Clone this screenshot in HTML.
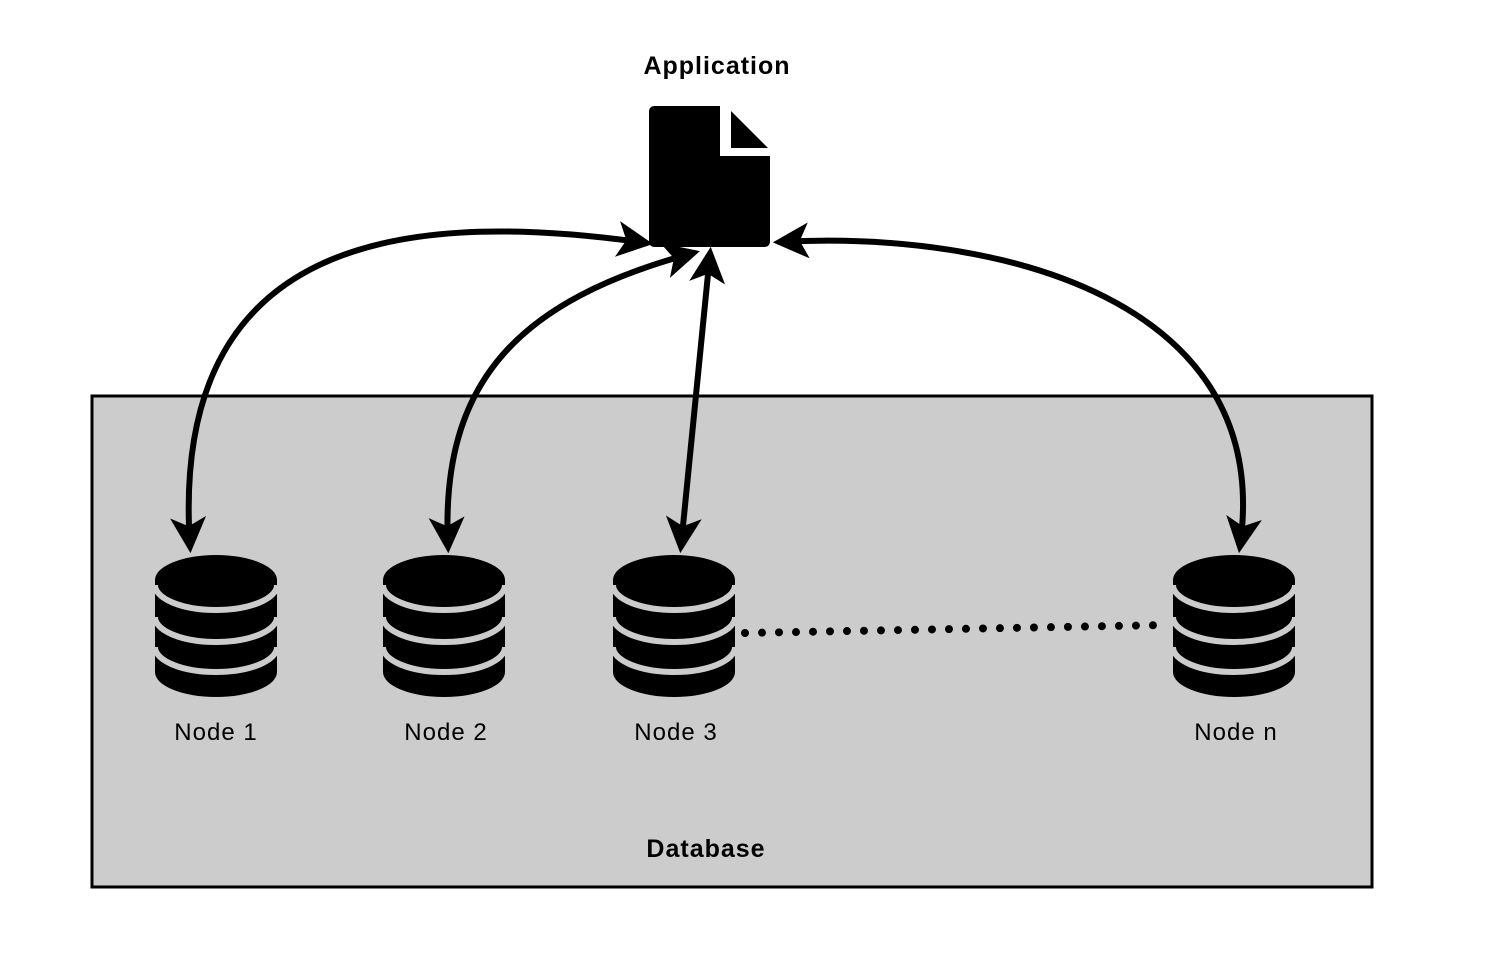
<!DOCTYPE html>
<html><head><meta charset="utf-8"><style>
html,body{margin:0;padding:0;background:#fff;}
svg{display:block;}
text{font-family:"Liberation Sans",sans-serif;letter-spacing:1px;}
</style></head><body>
<svg width="1486" height="973" viewBox="0 0 1486 973" xmlns="http://www.w3.org/2000/svg">
<defs>
<marker id="ah" viewBox="0 0 20 20" refX="16" refY="10" markerWidth="6" markerHeight="6" orient="auto-start-reverse" markerUnits="strokeWidth">
<path d="M0,0 L20,10 L0,20 L5,10 Z" fill="#000"/>
</marker>
<g id="cyl">
<rect x="0" y="25" width="122" height="92" fill="#000"/>
<ellipse cx="61" cy="117" rx="61" ry="25" fill="#000"/>
<ellipse cx="61" cy="25" rx="61" ry="25" fill="#000"/>
<path d="M0,30 A61,25 0 0 0 122,30" fill="none" stroke="#ccc" stroke-width="6"/>
<path d="M0,62 A61,25 0 0 0 122,62" fill="none" stroke="#ccc" stroke-width="6"/>
<path d="M0,92 A61,25 0 0 0 122,92" fill="none" stroke="#ccc" stroke-width="6"/>
</g>
</defs>
<rect x="92" y="396" width="1280" height="491" fill="#cccccc" stroke="#000" stroke-width="3"/>
<text x="717" y="74" font-size="25" font-weight="bold" text-anchor="middle">Application</text>
<path d="M655,106 L720,106 L720,156 L770,156 L770,241 Q770,247 764,247 L655,247 Q649,247 649,241 L649,112 Q649,106 655,106 Z" fill="#000"/>
<path d="M731,111 L768,148 L731,148 Z" fill="#000"/>
<g fill="none" stroke="#000" stroke-width="6" marker-start="url(#ah)" marker-end="url(#ah)">
<path d="M190,546 C170,250 380,205 646,243"/>
<path d="M448,546 C440,380 520,300 693,253"/>
<path d="M681,546 L710,254"/>
<path d="M1240,546 C1275,300 1000,230 780,242"/>
</g>
<use href="#cyl" x="155" y="555"/>
<use href="#cyl" x="383" y="555"/>
<use href="#cyl" x="613" y="555"/>
<use href="#cyl" x="1173" y="555"/>
<line x1="745" y1="633" x2="1166" y2="625" stroke="#000" stroke-width="8" stroke-linecap="round" stroke-dasharray="0 17"/>
<g font-size="24" text-anchor="middle">
<text x="216" y="740">Node 1</text>
<text x="446" y="740">Node 2</text>
<text x="676" y="740">Node 3</text>
<text x="1236" y="740">Node n</text>
</g>
<text x="706" y="857" font-size="25" font-weight="bold" text-anchor="middle">Database</text>
</svg>
</body></html>
